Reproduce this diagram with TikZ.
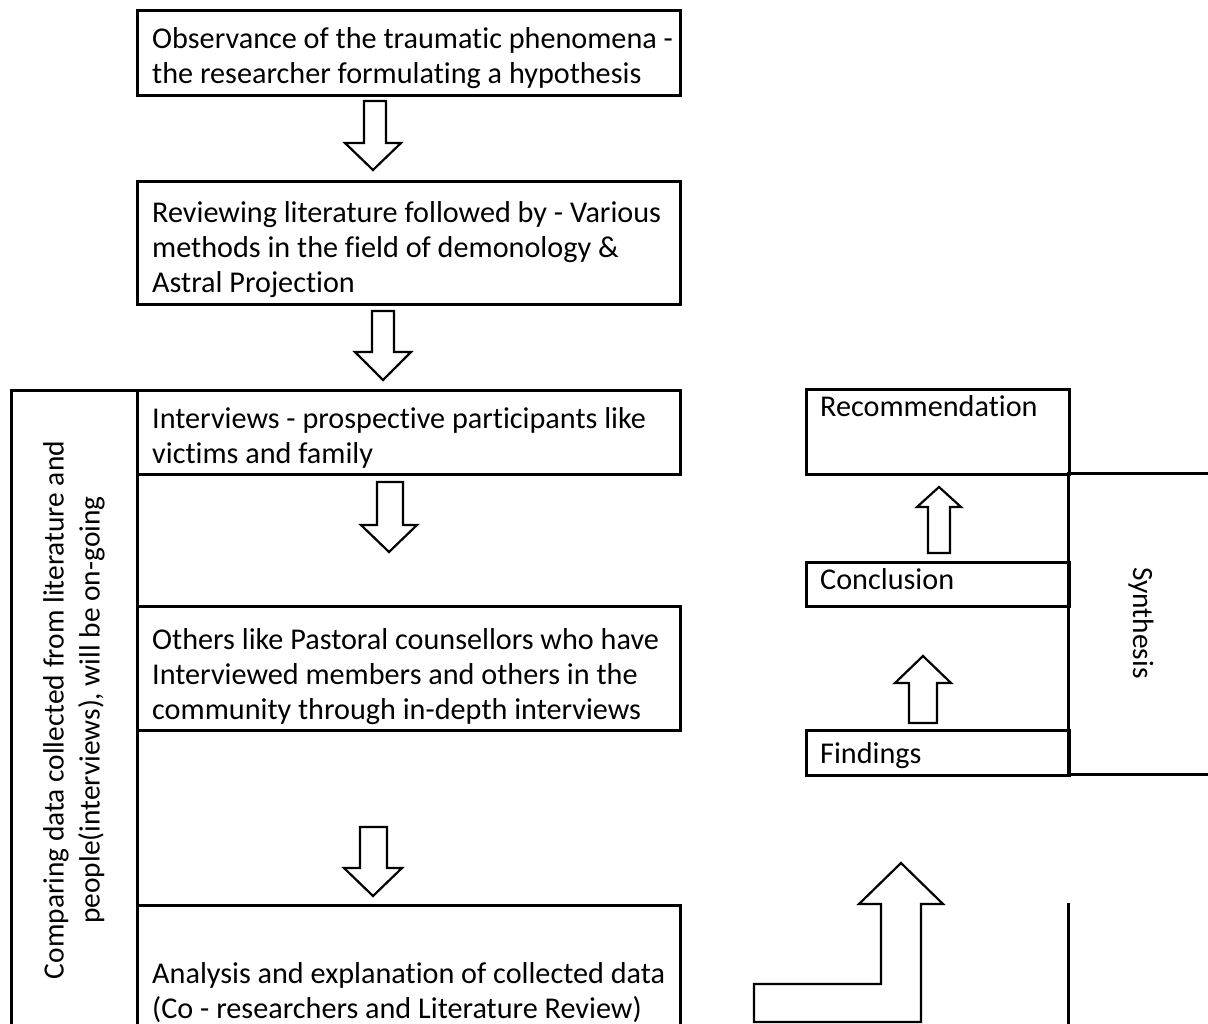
\documentclass[tikz,border=0pt]{standalone}
\usepackage{fontspec}
\setmainfont{Carlito}[Ligatures={NoCommon}]
\begin{document}
\begin{tikzpicture}[x=1pt,y=-1pt,
  box/.style={draw, line width=3pt, rectangle, inner sep=0pt, anchor=north west},
  rule/.style={line width=3pt},
  barrow/.style={draw, fill=white, line width=2.2pt, line join=miter},
  txt/.style={anchor=base west, inner sep=0pt, align=left, font=\fontsize{30.2}{35}\selectfont},
  vtxt/.style={inner sep=0pt, align=center, font=\fontsize{29.4}{36}\selectfont}
]
\fill[white] (0,0) rectangle (1208,1024);
\clip (0,0) rectangle (1208,1024);

% left flow boxes
\node[box, minimum width=543pt, minimum height=85pt] (obs) at (136,9) {};
\node[box, minimum width=543pt, minimum height=123pt] (rev) at (136,180) {};
\node[box, minimum width=126pt, minimum height=660pt] (col) at (10,389) {};
\node[box, minimum width=543pt, minimum height=84pt] (int) at (136,389) {};
\node[box, minimum width=543pt, minimum height=124pt] (oth) at (136,605) {};
\node[box, minimum width=543pt, minimum height=140pt] (ana) at (136,904) {};

% (base anchor = baseline of the last line)
\node[txt] (tobs) at (152,84) {Observance of the traumatic phenomena -\\the researcher formulating a hypothesis};
\node[txt] (trev) at (152,293) {Reviewing literature followed by - Various\\methods in the field of demonology \&\\Astral Projection};
\node[txt] (tint) at (152,463) {Interviews - prospective participants like\\victims and family};
\node[txt] (toth) at (152,719) {Others like Pastoral counsellors who have\\Interviewed members and others in the\\community through in-depth interviews};
\node[txt] (tana) at (152,1018) {Analysis and explanation of collected data\\(Co - researchers and Literature Review)};

\node[vtxt, rotate=90] (tcol) at (74,710) {Comparing data collected from literature and\\people(interviews), will be on-going};

% right side boxes
\node[box, minimum width=263pt, minimum height=85pt] (rec) at (805,388) {};
\node[box, minimum width=263pt, minimum height=44pt] (con) at (805,561) {};
\node[box, minimum width=263pt, minimum height=45pt] (fin) at (805,729) {};
\node[txt] (trec) at (820,417) {Recommendation};
\node[txt] (tcon) at (820,589) {Conclusion};
\node[txt] (tfin) at (820,763) {Findings};

\coordinate (s1) at (1068,473);
\coordinate (s2) at (1212,473);
\coordinate (s3) at (1068,774);
\coordinate (s4) at (1212,774);
\draw[rule] (s2) -- (s1) -- (s3) -- (s4);
\coordinate (v1) at (1068,903);
\coordinate (v2) at (1068,1030);
\draw[rule] (v1) -- (v2);
\node[vtxt, rotate=-90] (tsyn) at (1141,623) {Synthesis};

% block arrows
\draw[barrow] (364,101) -- (386,101) -- (386,143) -- (401,143) -- (373,170) -- (345,143) -- (364,143) -- cycle;
\draw[barrow] (372,311) -- (394,311) -- (394,352) -- (411,352) -- (383,380) -- (355,352) -- (372,352) -- cycle;
\draw[barrow] (377,482) -- (403,482) -- (403,525) -- (417,525) -- (389,552) -- (361,525) -- (377,525) -- cycle;
\draw[barrow] (360,827) -- (387,827) -- (387,868) -- (402,868) -- (373,896) -- (344,868) -- (360,868) -- cycle;
\draw[barrow] (909,723) -- (937,723) -- (937,683) -- (951,683) -- (923,656) -- (895,683) -- (909,683) -- cycle;
\draw[barrow] (928,553) -- (950,553) -- (950,507) -- (961,507) -- (939,487) -- (917,507) -- (928,507) -- cycle;
\draw[barrow] (754,1022) -- (754,984) -- (881,984) -- (881,904) -- (859,904) -- (901,863) -- (943,904) -- (921,904) -- (921,1022) -- cycle;
\end{tikzpicture}
\end{document}
